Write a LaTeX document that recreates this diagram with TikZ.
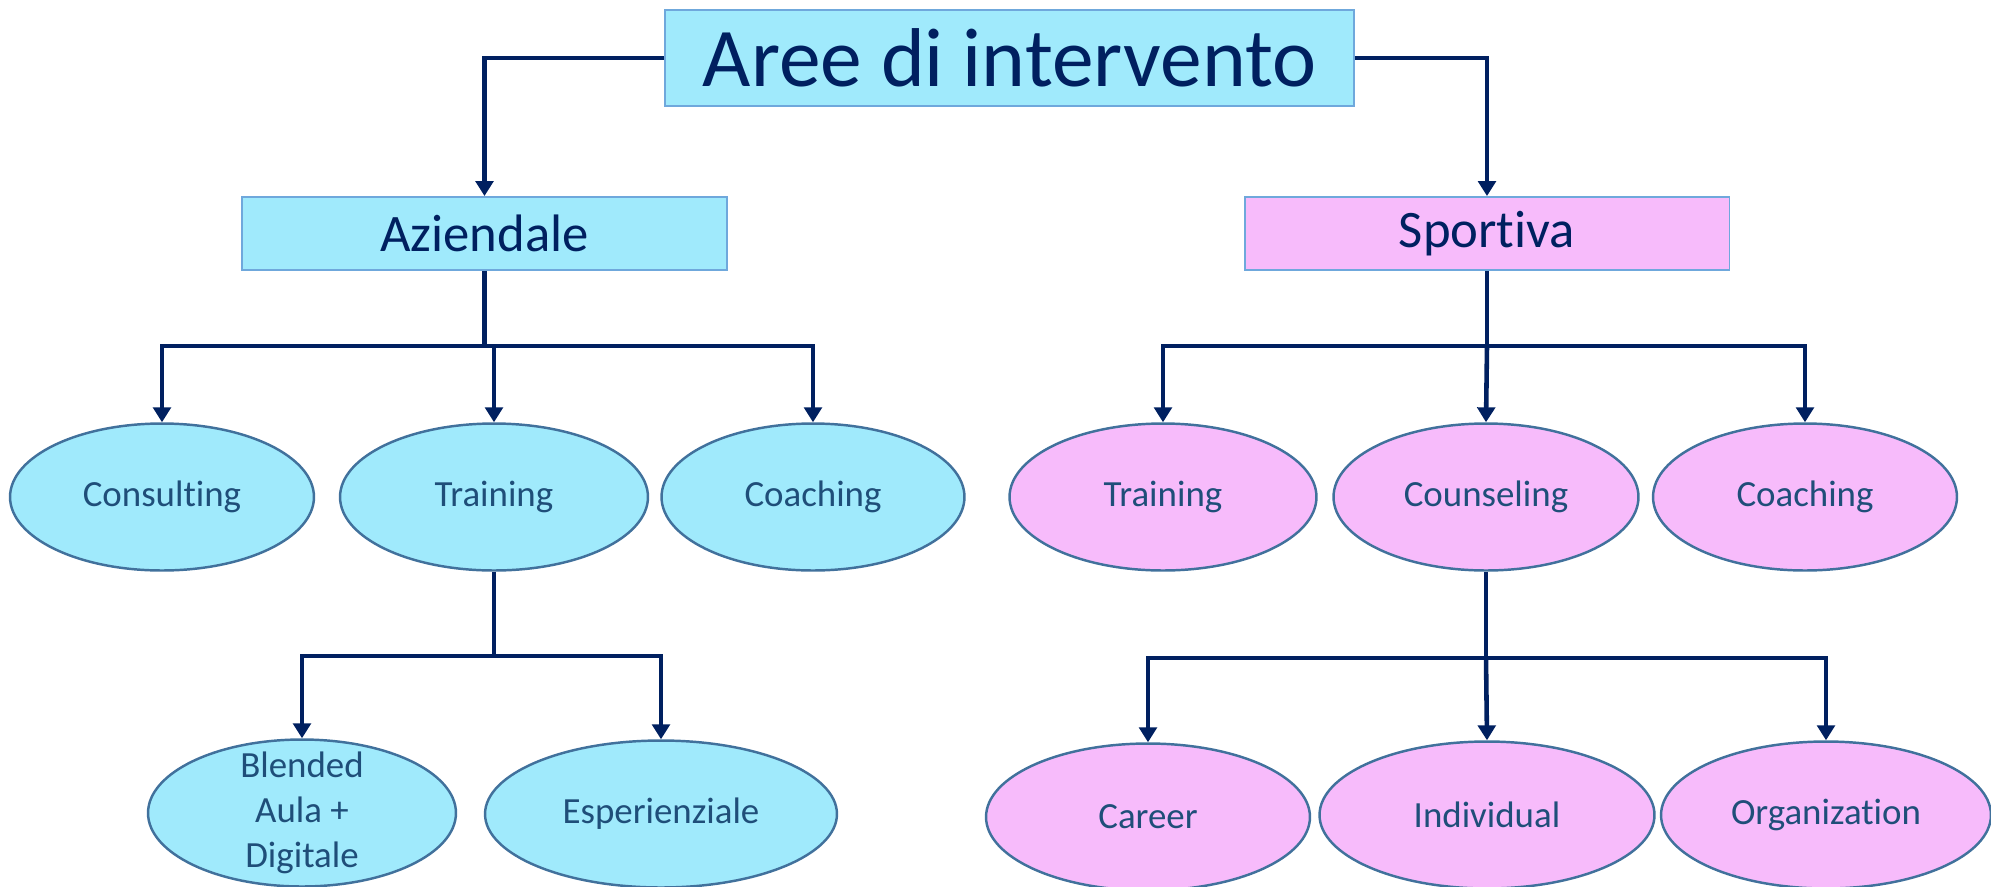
\documentclass[tikz,border=0pt]{standalone}
\usepackage{fontspec}
\setmainfont{Carlito}[Ligatures=NoCommon]
\usetikzlibrary{shapes.geometric,arrows.meta}
\definecolor{navy}{RGB}{0,32,96}
\definecolor{cyanfill}{RGB}{160,234,252}
\definecolor{pinkfill}{RGB}{247,187,251}
\definecolor{boxline}{RGB}{111,168,220}
\definecolor{ovalline}{RGB}{65,113,156}
\definecolor{ovaltext}{RGB}{31,78,121}

\begin{document}
\begin{tikzpicture}
                [x=0.02cm, y=-0.02cm,
                    area/.style={draw=boxline, line width=1.1pt, inner sep=0pt, text=navy},
                    oval/.style={ellipse, draw=ovalline, line width=1.4pt, inner sep=0pt,
                        text=ovaltext, minimum height=2.94cm, align=center,
                        font=\fontsize{21}{25.5}\selectfont},
                    link/.style={draw=navy, line width=2.6pt},
                    arr/.style={link, -{Triangle[width=10pt,length=8.5pt]}},
                ]
                \useasboundingbox (0,0) rectangle (1991,886);
                \clip (0,0) rectangle (1991,886);
                \node[area, fill=cyanfill, minimum width=13.78cm, minimum height=1.92cm,
                    font=\fontsize{47.5}{56}\selectfont] (aree) at (1009.5,58) {Aree di intervento};
                \node[area, fill=cyanfill, minimum width=9.7cm, minimum height=1.46cm,
                    font=\fontsize{30}{36}\selectfont] (azi) at (484.5,233.5) {Aziendale};
                \node[area, fill=pinkfill, minimum width=9.7cm, minimum height=1.46cm,
                    font=\fontsize{30}{36}\selectfont] (spo) at (1487,233.5) {Sportiva};
                \node[oval, fill=cyanfill, minimum width=6.08cm] (consult) at (162,497) {Consulting};
                \node[oval, fill=cyanfill, minimum width=6.16cm] (trainA) at (494,497) {Training};
                \node[oval, fill=cyanfill, minimum width=6.06cm] (coachA) at (813,497) {Coaching};
                \node[oval, fill=pinkfill, minimum width=6.14cm] (trainS) at (1163,497) {Training};
                \node[oval, fill=pinkfill, minimum width=6.10cm] (couns) at (1486,497) {Counseling};
                \node[oval, fill=pinkfill, minimum width=6.08cm] (coachS) at (1805,497) {Coaching};
                \node[oval, fill=cyanfill, minimum width=6.16cm, inner ysep=-6pt] (blend) at (302,813) {Blended\\Aula +\\Digitale};
                \node[oval, fill=cyanfill, minimum width=7.04cm] (esper) at (661,814) {Esperienziale};
                \node[oval, fill=pinkfill, minimum width=6.48cm] (career) at (1148,817) {Career};
                \node[oval, fill=pinkfill, minimum width=6.70cm] (indiv) at (1487,815) {Individual};
                \node[oval, fill=pinkfill, minimum width=6.60cm] (organiz) at (1826,815) {Organization};
                \coordinate (aziJ) at (484.5,346);
                \coordinate (spoJ) at (1487,346);
                \coordinate (trainJ) at (494,656);
                \coordinate (counsJ) at (1486,658);
                \draw[arr] (aree.west) -| (azi.north);
                \draw[arr] (aree.east) -| (spo.north);
                \draw[link] (azi.south) -- (aziJ);
                \draw[arr] (aziJ) -| (consult.north);
                \draw[arr] (aziJ) -| (trainA.north);
                \draw[arr] (aziJ) -| (coachA.north);
                \draw[link] (spo.south) -- (spoJ);
                \draw[arr] (spoJ) -| (trainS.north);
                \draw[arr] (spoJ) -- (couns.north);
                \draw[arr] (spoJ) -| (coachS.north);
                \draw[link] (trainA.south) -- (trainJ);
                \draw[arr] (trainJ) -| (blend.north);
                \draw[arr] (trainJ) -| (esper.north);
                \draw[link] (couns.south) -- (counsJ);
                \draw[arr] (counsJ) -| (career.north);
                \draw[arr] (counsJ) -- (indiv.north);
                \draw[arr] (counsJ) -| (organiz.north);
            \end{tikzpicture}
\end{document}
